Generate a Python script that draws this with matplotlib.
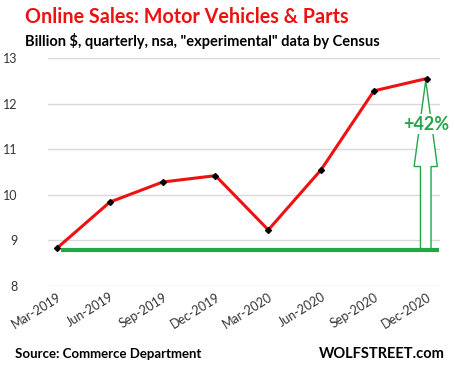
import numpy as np
import matplotlib.pyplot as plt
from matplotlib.patches import Polygon

quarters = ['Mar-2019', 'Jun-2019', 'Sep-2019', 'Dec-2019',
            'Mar-2020', 'Jun-2020', 'Sep-2020', 'Dec-2020']
sales = [8.83, 9.84, 10.28, 10.42, 9.23, 10.55, 12.28, 12.55]
baseline = 8.79

plt.rcParams['font.family'] = ['Lato', 'DejaVu Sans']

fig = plt.figure(figsize=(4.55, 3.72), dpi=100)
ax = fig.add_axes([48/455, 1-286/372, 392/455, 228/372])

x = np.arange(len(quarters))
ax.set_xlim(-0.17, 7.25)
ax.set_ylim(8, 13)

ax.set_yticks([8, 9, 10, 11, 12, 13])
ax.yaxis.grid(True, color='#d9d9d9', lw=1)
ax.set_axisbelow(True)
for s in ax.spines.values():
    s.set_visible(False)
ax.tick_params(length=0, labelsize=9, colors='#333333')
ax.tick_params(axis='y', pad=22)
ax.set_xticks(x)
ax.set_xticklabels(quarters, rotation=32, ha='right', rotation_mode='anchor')

# green baseline
ax.plot([x[0] + 0.08, 7.23], [baseline, baseline], color='#22a64a', lw=3, solid_capstyle='butt')

# hollow arrow
cx = x[-1] - 0.02
sw, hw = 0.1, 0.22
head_y = 10.62
tip_y = sales[-1] - 0.04
arrow = Polygon([(cx - sw, baseline), (cx - sw, head_y), (cx - hw, head_y), (cx, tip_y),
                 (cx + hw, head_y), (cx + sw, head_y), (cx + sw, baseline)],
                closed=True, fill=True, facecolor='white', edgecolor='#22a64a', lw=1)
ax.add_patch(arrow)
ax.text(cx, 11.55, '+42%', color='#22a64a', fontsize=13, fontweight='bold',
        ha='center', va='center', bbox=dict(facecolor='white', edgecolor='none', pad=1))

ax.plot(x, sales, color='#ee1111', lw=2.2, zorder=3)
ax.plot(x, sales, 'D', color='black', ms=3, zorder=4)

fig.text(25/455, 1-17/372, 'Online Sales: Motor Vehicles & Parts', color='#ee1111',
         fontsize=14.2, fontweight='bold', va='center')
fig.text(25/455, 1-41/372, 'Billion $, quarterly, nsa, "experimental" data by Census', color='black',
         fontsize=10.5, fontweight='bold', va='center')
fig.text(15/455, 1-354/372, 'Source: Commerce Department', fontsize=9.5, fontweight='bold', va='center')
fig.text(445/455, 1-354/372, 'WOLFSTREET.com', fontsize=10.5, fontweight='bold', va='center', ha='right')

fig.savefig('out.png', dpi=100)
